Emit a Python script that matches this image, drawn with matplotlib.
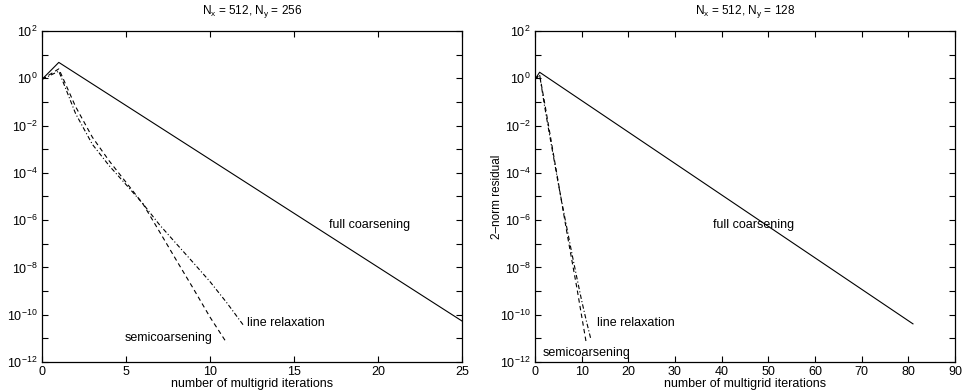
import numpy as np
import matplotlib
matplotlib.use("Agg")
import matplotlib.pyplot as plt
from matplotlib.ticker import FixedLocator, FixedFormatter, NullLocator

plt.rcParams['font.family'] = ['Liberation Sans', 'DejaVu Sans']
plt.rcParams['mathtext.fontset'] = 'custom'
plt.rcParams['mathtext.rm'] = 'Liberation Sans'
plt.rcParams['mathtext.it'] = 'Liberation Sans'

# left panel: Nx = 512, Ny = 256
full_it_a = [0, 1, 25]
full_res_a = [0.9, 4.7, 5.4e-11]
semi_it_a = list(range(0, 12))
semi_res_a = [0.9, 2.5, 6.3e-2, 3.2e-3, 3.2e-4, 4.0e-5, 5.0e-6, 3.2e-7,
              2.0e-8, 1.3e-9, 7.9e-11, 6.3e-12]
line_it_a = list(range(0, 13))
line_res_a = [0.9, 2.0, 3.2e-2, 1.6e-3, 2.0e-4, 3.2e-5, 5.0e-6, 6.3e-7,
              1.0e-7, 1.6e-8, 2.5e-9, 3.2e-10, 3.5e-11]

# right panel: Nx = 512, Ny = 128
full_it_b = [0, 1, 81]
full_res_b = [0.9, 1.8, 4.1e-11]
semi_it_b = list(range(0, 12))
semi_res_b = [0.9, 1.4, 1.1e-1, 7.9e-3, 5.6e-4, 4.0e-5, 2.8e-6, 2.0e-7,
              1.6e-8, 1.3e-9, 8.9e-11, 6.3e-12]
line_it_b = list(range(0, 13))
line_res_b = [0.9, 1.4, 7.9e-2, 5.6e-3, 4.5e-4, 3.5e-5, 3.2e-6, 3.2e-7,
              3.2e-8, 3.5e-9, 4.0e-10, 5.6e-11, 8.9e-12]

titles = ['N$_x$ = 512, N$_y$ = 256', 'N$_x$ = 512, N$_y$ = 128']
xticks_a = [0, 5, 10, 15, 20, 25]
xticks_b = [0, 10, 20, 30, 40, 50, 60, 70, 80, 90]

fig = plt.figure(figsize=(9.7, 3.91), dpi=100)
ax1 = fig.add_axes([0.0433, 0.0742, 0.433, 0.8465])
ax2 = fig.add_axes([0.5515, 0.0742, 0.433, 0.8465])

panels = [
    (ax1, full_it_a, full_res_a, semi_it_a, semi_res_a, line_it_a, line_res_a, xticks_a,
     [(17.1, 10**-6.22), (12.2, 10**-10.37), (4.9, 10**-11.0)]),
    (ax2, full_it_b, full_res_b, semi_it_b, semi_res_b, line_it_b, line_res_b, xticks_b,
     [(38.1, 10**-6.22), (13.3, 10**-10.34), (1.7, 10**-11.6)]),
]

ydec = list(range(-12, 3))
for i, (ax, fx, fy, sx, sy, lx, ly, xt, pos) in enumerate(panels):
    ax.semilogy(fx, fy, 'k-', lw=0.8)
    ax.semilogy(sx, sy, 'k--', lw=0.8, dashes=(4, 3))
    ax.semilogy(lx, ly, 'k-.', lw=0.8, dashes=(4, 2, 1, 2))
    ax.set_xlim(xt[0], xt[-1])
    ax.set_ylim(1e-12, 1e2)
    ax.set_xticks(xt)
    ax.set_xticklabels([str(v) for v in xt])
    ax.yaxis.set_major_locator(FixedLocator([10.0**k for k in ydec]))
    ax.yaxis.set_major_formatter(FixedFormatter(
        ['$10^{%d}$' % k if k % 2 == 0 else '' for k in ydec]))
    ax.yaxis.set_minor_locator(NullLocator())
    ax.tick_params(direction='in', top=True, right=True, length=4,
                   width=0.8, labelsize=9, pad=3)
    for s in ax.spines.values():
        s.set_linewidth(0.9)
    ax.set_title(titles[i], fontsize=8.5, pad=12)
    ax.set_xlabel('number of multigrid iterations', fontsize=9, labelpad=0)
    ax.text(pos[0][0], pos[0][1], 'full coarsening', fontsize=9, va='center')
    ax.text(pos[1][0], pos[1][1], 'line relaxation', fontsize=9, va='center')
    ax.text(pos[2][0], pos[2][1], 'semicoarsening', fontsize=9, va='center')

# the left panel's y label falls outside the page in the original
ax2.set_ylabel('2\u2013norm residual', fontsize=8.5, labelpad=-2)

fig.savefig('out.png', dpi=100)
